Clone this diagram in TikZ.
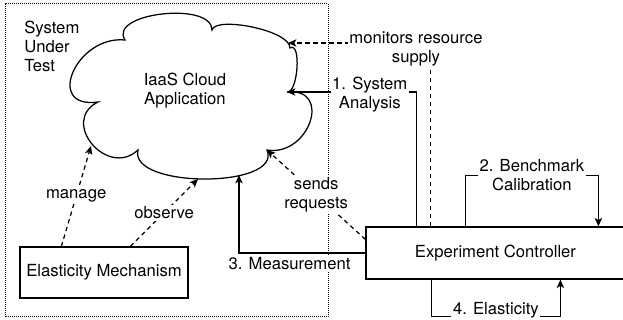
\documentclass[tikz,border=0pt]{standalone}
\usepackage{fontspec}
\setmainfont{TeX Gyre Heros}
\usetikzlibrary{arrows.meta, positioning, calc}

\begin{document}
\begin{tikzpicture}[
    x=0.6pt, y=-0.6pt,
    every node/.style={font=\fontsize{10}{11.4}\selectfont, align=center},
    blk/.style={draw, rectangle, line width=0.75pt, inner sep=2pt},
    arw/.style={-{Stealth[length=5pt, width=4.4pt, inset=1.2pt]}, line width=0.75pt},
    darw/.style={arw, dash pattern=on 2.6pt off 2.2pt},
    lbl/.style={fill=white, inner sep=1pt},
    sutbox/.style={draw, line width=0.6pt, dash pattern=on 0.6pt off 0.6pt}
  ]
    \useasboundingbox (0,0) rectangle (623,320);
    \clip (0,0) rectangle (623,320);

    % System under test
    \draw[sutbox] (5,4) rectangle (328,317);
    \node[align=left, anchor=west, inner sep=0pt] (sut) at (24,46) {System\\Under\\Test};

    % Cloud
    \draw[line width=0.75pt] (125,40)
        .. controls (107.6,13) and (212,1) .. (212,30)
        .. controls (215,16) and (290,30) .. (290,48)
        .. controls (301.6,40.9) and (298,93.7) .. (287,92)
        .. controls (333,87.5) and (309,157) .. (267,150)
        .. controls (283.2,188.7) and (128.4,188.7) .. (138,150)
        .. controls (107.3,178.8) and (59.3,121.2) .. (98,102)
        .. controls (44,109.5) and (76.4,35.1) .. (125,40) -- cycle;
    \node (app) at (185,91) {IaaS Cloud\\Application};

    \coordinate (c-mon) at (288,43);
    \coordinate (c-ana) at (287,92);
    \coordinate (c-req) at (267,150);
    \coordinate (c-mea) at (239,175);
    \coordinate (c-obs) at (198,179);
    \coordinate (c-man) at (91,146);

    % Blocks
    \node[blk, minimum width=100.8pt, minimum height=30.6pt] (elast) at (104,272.5) {Elasticity Mechanism};
    \node[blk, minimum width=155.4pt, minimum height=31.2pt] (ctrl) at (495.5,253) {Experiment Controller};

    % Elasticity mechanism -> cloud
    \draw[darw] ($(elast.north west)+(42,0)$) -- (c-man) node[lbl, midway] {manage};
    \draw[darw] ($(elast.north west)+(111,0)$) -- (c-obs) node[lbl, midway] {observe};

    % Controller -> cloud
    \draw[darw] ($(ctrl.north west)+(65,0)$) |- (c-mon);
    \node[lbl] (mon) at (416,49) {monitors resource\\supply};
    \draw[arw] ($(ctrl.north west)+(51,0)$) |- (c-ana)
        node[lbl, pos=0.68, yshift=-1.5pt] (ana) {1. System\\Analysis};
    \draw[darw] ($(ctrl.north west)+(0,13)$) -- (c-req) node[lbl, midway] {sends\\requests};
    \draw[arw] (ctrl.west) -| (c-mea) node[lbl, pos=0.3, below=1pt] {3. Measurement};

    % Controller loops
    \draw[arw] ($(ctrl.north west)+(100,0)$) -- ++(0,-51) -| ($(ctrl.north west)+(233,0)$)
        node[lbl, pos=0.25] {2. Benchmark\\Calibration};
    \draw[arw] ($(ctrl.south west)+(66,0)$) -- ++(0,37) -| ($(ctrl.south west)+(195,0)$)
        node[lbl, pos=0.25, yshift=-1pt] {4. Elasticity\\Evaluation};
\end{tikzpicture}
\end{document}
